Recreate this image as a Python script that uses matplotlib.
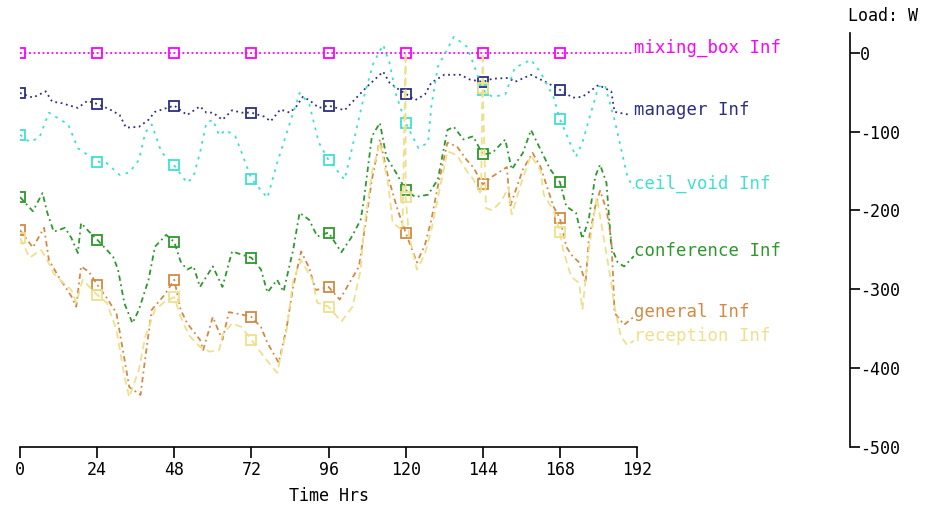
import matplotlib
matplotlib.use("Agg")
import matplotlib.pyplot as plt

plt.rcParams['font.family'] = ['DejaVu Sans Mono']
plt.rcParams['axes.unicode_minus'] = False

# hourly load traces (hours, W)
mix_h = [0, 24, 48, 72, 96, 120, 144, 168, 191]
mix_v = [0, 0, 0, 0, 0, 0, 0, 0, 0]

man_h = [0, 4, 8, 10, 13, 18, 21, 24, 28, 31, 33, 37, 40, 42, 45, 48, 52, 56, 58, 60,
         63, 66, 69, 72, 76, 78, 81, 84, 86, 88, 90, 93, 96, 101, 104, 108, 113, 115, 118, 120,
         123, 126, 128, 132, 137, 140, 144, 147, 152, 154, 159, 164, 168, 172, 175, 180, 184, 185, 190]
man_v = [-51, -57, -49, -62, -64, -70, -61, -65, -72, -79, -95, -94, -85, -75, -71, -67, -79, -68, -76, -76,
         -85, -73, -76, -76, -81, -87, -72, -76, -68, -56, -60, -70, -67, -73, -60, -43, -24, -38, -47, -52,
         -60, -53, -38, -28, -28, -34, -37, -33, -32, -37, -28, -38, -47, -57, -56, -41, -49, -75, -79]

ceil_h = [0, 3, 6, 9, 15, 18, 24, 27, 31, 34, 37, 39, 41, 44, 48, 52, 54, 56, 58, 60,
          62, 64, 67, 69, 72, 77, 80, 84, 87, 90, 93, 96, 101, 103, 107, 110, 113, 115, 117, 120,
          124, 127, 128, 130, 135, 139, 141, 144, 147, 151, 154, 159, 162, 166, 168, 173, 175, 180, 182, 185,
          189, 191]
ceil_v = [-104, -113, -108, -76, -91, -121, -138, -140, -155, -152, -136, -101, -91, -126, -143, -165, -157, -127, -89, -85,
          -105, -98, -106, -127, -160, -184, -140, -89, -51, -65, -114, -136, -161, -127, -56, -13, 10, -13, -53, -89,
          -121, -114, -68, -18, 20, 8, -13, -47, -56, -53, -19, -9, -25, -56, -84, -132, -114, -43, -41, -85,
          -157, -172]

conf_h = [0, 4, 7, 8.5, 10.5, 14, 16, 18, 19, 21.5, 24, 27, 29, 30.5, 32.5, 35, 37, 40, 42, 45.5,
          48, 50, 52, 54, 56, 60, 63, 66, 69, 72, 75, 77, 80, 82, 85, 87, 90, 92.5, 96, 100,
          103, 106, 107, 109.5, 112, 114, 117, 120, 123, 127, 130, 133, 135, 138, 141, 144, 147, 151, 153, 156.5,
          159, 162, 165, 168, 170, 173, 175, 177, 179, 180.5, 182.5, 184, 186, 188, 191]
conf_v = [-183, -201, -178, -203, -227, -222, -235, -254, -216, -227, -237, -250, -259, -275, -318, -343, -326, -288, -246, -231,
          -240, -265, -275, -271, -297, -271, -297, -252, -256, -260, -275, -304, -288, -303, -250, -203, -212, -233, -228, -253,
          -235, -212, -187, -106, -89, -132, -152, -174, -183, -180, -161, -98, -94, -110, -106, -129, -127, -110, -148, -127,
          -98, -123, -148, -164, -195, -203, -236, -211, -157, -142, -165, -246, -266, -271, -258]

gen_h = [0, 4, 7.5, 9, 12, 16, 17.5, 19, 21.5, 24, 27, 30, 32, 34, 37.5, 38.5, 41, 45, 48, 50,
         52, 56, 57, 60, 62, 63, 65, 69, 72, 75, 77, 80.5, 83, 85, 87.5, 90, 92, 96, 99.5, 102.5,
         105.5, 108, 109.5, 112, 114.5, 117.5, 120, 123.5, 126, 128, 130, 133, 136, 139, 141, 144, 147, 151.5, 152.5, 156.5,
         159.5, 162, 166, 168, 170, 171.5, 174, 176, 177, 179, 180.5, 182.5, 184, 184.5, 185, 188, 191]
gen_v = [-225, -247, -222, -263, -284, -309, -322, -271, -278, -294, -311, -330, -377, -424, -434, -402, -326, -307, -288, -326,
         -343, -364, -377, -335, -355, -364, -329, -332, -335, -348, -368, -393, -348, -297, -252, -273, -301, -297, -313, -292,
         -271, -203, -161, -110, -157, -199, -228, -266, -244, -212, -170, -114, -119, -136, -145, -167, -157, -145, -195, -148,
         -127, -145, -195, -210, -246, -256, -266, -292, -237, -195, -175, -199, -237, -279, -330, -345, -335]

rec_h = [0, 3, 6.5, 8, 10.5, 13, 16, 17.5, 19.5, 24, 27, 30, 32.5, 34, 37, 39, 42, 45, 48, 50,
         52.5, 56, 59, 62, 63, 66, 69, 72, 76, 80, 83, 85, 87.5, 91, 92.5, 96, 100, 103.5, 106, 107,
         109.5, 112, 114.5, 116, 119, 120, 120, 121, 123.5, 126, 128, 130, 133, 136, 139, 141, 143.5, 144, 144, 145,
         147, 150, 152, 153, 156, 159, 162, 163, 166, 168, 169, 171.5, 174, 175, 177, 179.5, 184, 185, 187, 189,
         191]
rec_v = [-235, -260, -250, -259, -280, -290, -301, -317, -288, -307, -317, -351, -411, -437, -402, -360, -326, -316, -310, -335,
         -358, -373, -379, -377, -358, -343, -348, -364, -386, -406, -351, -288, -263, -288, -317, -322, -341, -322, -275, -225,
         -152, -114, -165, -216, -225, 0, -183, -230, -275, -255, -225, -185, -125, -130, -150, -160, -180, 0, -45, -197,
         -200, -187, -170, -205, -165, -130, -150, -180, -200, -227, -250, -284, -292, -326, -250, -183, -292, -322, -360, -371,
         -365]

names = ['mixing_box', 'manager', 'ceil_void', 'conference', 'general', 'reception']
hours = [mix_h, man_h, ceil_h, conf_h, gen_h, rec_h]
loads = [mix_v, man_v, ceil_v, conf_v, gen_v, rec_v]
colors = ['#FF00FF', '#2B2F7C', '#40E0D0', '#2E982E', '#D08A45', '#EEE08C']
styles = [(0, (1, 1.5)), (0, (1, 2)), (0, (1.5, 3)), (0, (3, 2, 1, 2)), (0, (3, 2, 1, 2)), (0, (4, 2.5))]
mark_hours = [0, 24, 48, 72, 96, 120, 144, 168]

W, H = 927, 508
fig = plt.figure(figsize=(W / 100, H / 100), dpi=100)
ax = fig.add_axes([20 / W, 61 / H, 617 / W, 414 / H])

for name, h, v, c, ls in zip(names, hours, loads, colors, styles):
    idx = [max(i for i, x in enumerate(h) if x == t) for t in mark_hours]
    ax.plot(h, v, color=c, linestyle=ls, linewidth=1.3, marker='s', markersize=6.5,
            markerfacecolor='none', markeredgecolor=c, markeredgewidth=1.3, markevery=idx)
    ax.text(191, v[-1], name + ' Inf', color=c, fontsize=12.5, ha='left', va='baseline')

ax.set_xlim(0, 192)
ax.set_ylim(-500, 25)
for s in ['left', 'top', 'right']:
    ax.spines[s].set_visible(False)
ax.spines['bottom'].set_linewidth(1.2)
ax.set_yticks([])
ax.set_xticks(range(0, 193, 24))
ax.tick_params(axis='x', direction='out', length=8, width=1.2, labelsize=12, pad=2)
ax.set_xlabel('Time Hrs', fontsize=12, labelpad=6)
ax.patch.set_alpha(0)

# separate load scale on the right
ax2 = fig.add_axes([849 / W, 61 / H, 1 / W, 414 / H])
ax2.set_ylim(-500, 25)
ax2.set_xticks([])
for s in ['left', 'top', 'bottom']:
    ax2.spines[s].set_visible(False)
ax2.spines['right'].set_linewidth(1.2)
ax2.yaxis.tick_right()
ax2.set_yticks([0, -100, -200, -300, -400, -500])
ax2.tick_params(axis='y', direction='out', length=7, width=1.2, labelsize=12, pad=0)
ax2.patch.set_alpha(0)

fig.text(848 / W, 1 - 16 / H, 'Load: W', fontsize=12, ha='left', va='center')

fig.savefig('out.png', dpi=100)
